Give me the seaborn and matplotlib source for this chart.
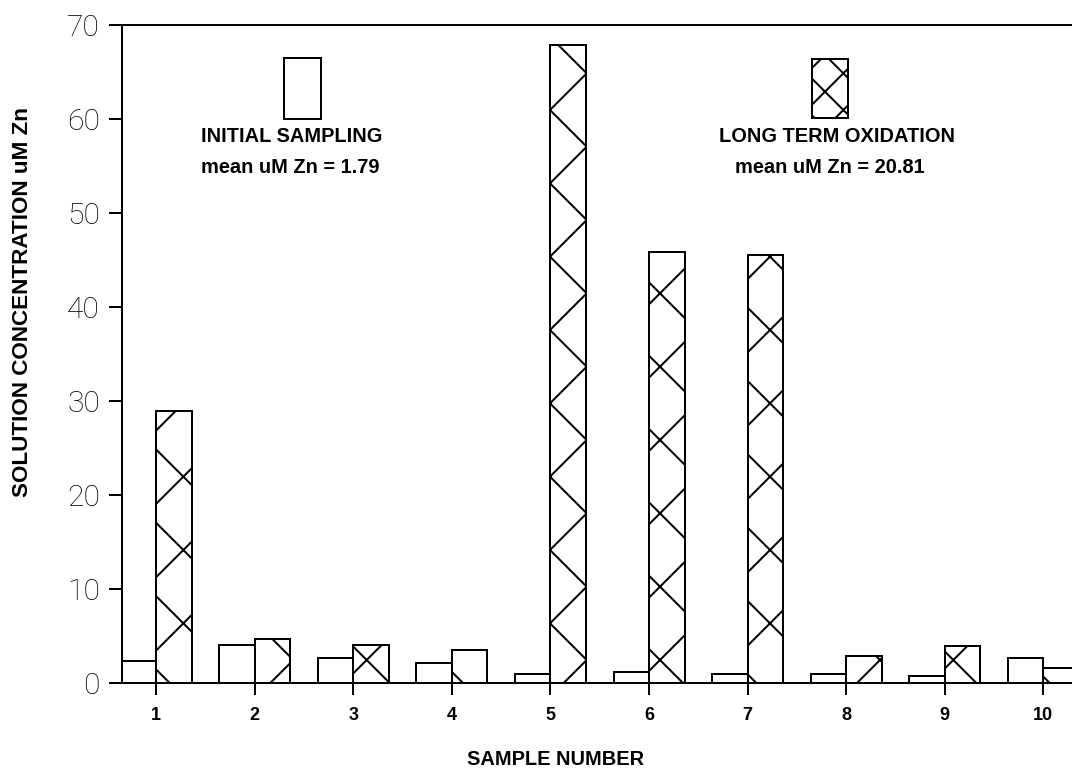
import matplotlib
matplotlib.use("Agg")
import matplotlib.pyplot as plt
import seaborn as sns
import pandas as pd
from matplotlib.patches import Rectangle

# ---- data ----
samples = ["1", "2", "3", "4", "5", "6", "7", "8", "9", "10"]
initial_sampling = [2.37, 4.04, 2.66, 2.09, 0.96, 1.13, 0.92, 0.92, 0.74, 2.66]
long_term_oxidation = [28.9, 4.68, 4.0, 3.55, 67.9, 45.85, 45.5, 2.84, 3.9, 1.56]
series_names = ["INITIAL SAMPLING", "LONG TERM OXIDATION"]
y_ticks = [0, 10, 20, 30, 40, 50, 60, 70]

DPI = 220
PT = 72.0 / DPI  # points per pixel

df = pd.DataFrame({
    "sample": samples * 2,
    "value": initial_sampling + long_term_oxidation,
    "series": [series_names[0]] * len(samples) + [series_names[1]] * len(samples),
})

sns.set_style("ticks")
plt.rcParams["font.family"] = ["Liberation Sans", "DejaVu Sans"]
plt.rcParams["hatch.linewidth"] = 2.0 * PT
plt.rcParams["hatch.color"] = "black"
plt.rcParams["text.color"] = "black"
plt.rcParams["axes.labelcolor"] = "black"
plt.rcParams["xtick.color"] = "black"
plt.rcParams["ytick.color"] = "black"

fig = plt.figure(figsize=(1072 / DPI, 773 / DPI), dpi=DPI)
ax = fig.add_axes([122 / 1072, 1 - 683 / 773, 950 / 1072, 658 / 773])

sns.barplot(data=df, x="sample", y="value", hue="series", order=samples,
            hue_order=series_names, palette={series_names[0]: "white", series_names[1]: "white"},
            saturation=1, width=0.72, edgecolor="black", linewidth=2.0 * PT,
            legend=False, ax=ax, errorbar=None)

for p in ax.containers[1]:
    p.set_hatch("x")

ax.set_xlim(-0.345, 9.29)
ax.set_ylim(0, 70)
ax.set_yticks(y_ticks)
ax.set_yticklabels([str(t) for t in y_ticks], fontsize=30 * PT, fontweight="light",
                   family=["Roboto", "DejaVu Sans"], color="black")
ax.set_xticks(range(len(samples)))
ax.set_xticklabels(samples, fontsize=18 * PT, fontweight="bold", color="black")
ax.tick_params(axis="y", direction="out", length=13 * PT, width=2 * PT, pad=9 * PT)
ax.tick_params(axis="x", direction="out", length=12 * PT, width=2 * PT, pad=12 * PT)

for s in ["left", "bottom", "top"]:
    ax.spines[s].set_linewidth(2 * PT)
    ax.spines[s].set_color("black")
ax.spines["right"].set_visible(False)

ax.set_xlabel("SAMPLE NUMBER", fontsize=20 * PT, fontweight="bold", color="black")
ax.xaxis.set_label_coords(0.456, -0.117)
ax.xaxis.label.set_va("center")
ax.set_ylabel("SOLUTION CONCENTRATION uM Zn", fontsize=22.5 * PT, fontweight="bold",
              color="black")
ax.yaxis.set_label_coords(-0.105, 0.579)
ax.yaxis.label.set_va("center")

# legend swatches and labels
ax.add_patch(Rectangle((0.1705, 0.857), 0.0389, 0.0927, transform=ax.transAxes,
                       facecolor="white", edgecolor="black", linewidth=2 * PT, clip_on=False))
ax.add_patch(Rectangle((0.7263, 0.8587), 0.0379, 0.0897, transform=ax.transAxes,
                       facecolor="white", edgecolor="black", linewidth=2 * PT, hatch="xx",
                       clip_on=False))
kw = dict(transform=ax.transAxes, ha="center", va="center", fontsize=20 * PT,
          fontweight="bold", color="black")
ax.text(0.179, 0.8298, "INITIAL SAMPLING", **kw)
ax.text(0.1768, 0.784, "mean uM Zn = 1.79", **kw)
ax.text(0.7526, 0.8298, "LONG TERM OXIDATION", **kw)
ax.text(0.745, 0.784, "mean uM Zn = 20.81", **kw)

fig.savefig("out.png", dpi=DPI, facecolor="white")
